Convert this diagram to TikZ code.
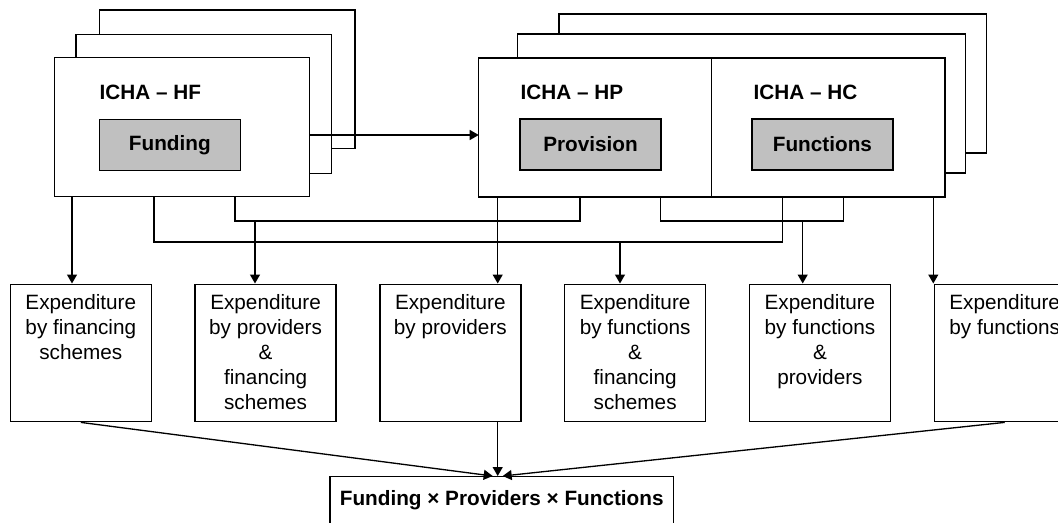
\documentclass[tikz,border=0pt]{standalone}
\usepackage{fontspec}
\setmainfont{Liberation Sans}
\usetikzlibrary{positioning}
\usetikzlibrary{arrows.meta}
\definecolor{boxgray}{RGB}{192,192,192}
\newcommand{\diagfont}{\fontsize{11.8pt}{14.2pt}\selectfont}
\newcommand{\expbox}[1]{\parbox[t][2.33cm][t]{2.82cm}{\centering #1}}

\begin{document}
\begin{tikzpicture}[x=0.02cm,y=-0.02cm,line width=0.75pt,font=\diagfont,
  sheet/.style={draw,fill=white},
  icha/.style={draw,fill=white,inner sep=0pt,outer sep=0pt,minimum height=2.78cm},
  part/.style={draw,fill=boxgray,minimum width=2.82cm,minimum height=1.02cm,inner sep=0pt,font=\diagfont\bfseries},
  title/.style={anchor=west,inner sep=0pt,font=\diagfont\bfseries},
  expend/.style={draw,fill=white,inner xsep=0pt,inner ysep=6pt,anchor=north},
  arr/.style={-{Triangle[length=0.18cm,width=0.2cm]}}]
\useasboundingbox (0,0) rectangle (1058,522);

% HF stack
\draw[sheet] (99.3,10) rectangle (355,148.7);
\draw[sheet] (76,34.3) rectangle (331.3,173.3);
\node[icha,minimum width=5.108cm] (hf) at (182,127.2) {};
\node[title] (hftitle) at (99,92) {ICHA -- HF};
\node[part] (fund) at (169.8,144.7) {Funding};

% HP / HC stack
\draw[sheet] (559,14) rectangle (986.7,153);
\draw[sheet] (517.7,34) rectangle (965.3,173);
\node[icha,minimum width=4.66cm] (hp) at (595.2,127.5) {};
\node[icha,minimum width=4.666cm,right=0pt of hp] (hc) {};
\node[title] (hptitle) at (520,92) {ICHA -- HP};
\node[title] (hctitle) at (753,92) {ICHA -- HC};
\node[part] (prov) at (590.5,144.5) {Provision};
\node[part] (func) at (822.4,144.5) {Functions};

\coordinate (flow) at (400,135);
\draw[arr] (hf.east |- flow) -- (hp.west |- flow);

% expenditure tables
\node[expend] (e1) at (80.8,283.5) {\expbox{Expenditure\\by financing\\schemes}};
\node[expend,right=0.85cm of e1] (e2) {\expbox{Expenditure\\by providers\\\&\\financing\\schemes}};
\node[expend,right=0.85cm of e2] (e3) {\expbox{Expenditure\\by providers}};
\node[expend,right=0.85cm of e3] (e4) {\expbox{Expenditure\\by functions\\\&\\financing\\schemes}};
\node[expend,right=0.85cm of e4] (e5) {\expbox{Expenditure\\by functions\\\&\\providers}};
\node[expend,right=0.85cm of e5] (e6) {\expbox{Expenditure\\by functions}};

% one classification each
\coordinate (x1) at (72,0);
\coordinate (x3) at (497.7,0);
\coordinate (x6) at (933.3,0);
\draw[arr] (hf.south -| x1) -- (e1.north -| x1);
\draw[arr] (hp.south -| x3) -- (e3.north -| x3);
\draw[arr] (hc.south -| x6) -- (e6.north -| x6);

% two classifications crossed
\coordinate (hfhpL) at (235,221); \coordinate (hfhpR) at (580,221); \coordinate (hfhp) at (255,221);
\draw (hf.south -| hfhpL) -- (hfhpL) -- (hfhpR) -- (hp.south -| hfhpR);
\draw[arr] (hfhp) -- (e2.north -| hfhp);
\coordinate (hfhcL) at (154,242); \coordinate (hfhcR) at (782.7,242); \coordinate (hfhc) at (620,242);
\draw (hf.south -| hfhcL) -- (hfhcL) -- (hfhcR) -- (hc.south -| hfhcR);
\draw[arr] (hfhc) -- (e4.north -| hfhc);
\coordinate (hphcL) at (660.7,221); \coordinate (hphcR) at (843.7,221); \coordinate (hphc) at (802.7,221);
\draw (hp.south -| hphcL) -- (hphcL) -- (hphcR) -- (hc.south -| hphcR);
\draw[arr] (hphc) -- (e5.north -| hphc);

% all three together
\node[draw,fill=white,minimum width=6.866cm,minimum height=0.96cm,inner sep=0pt,anchor=north,font=\diagfont\bfseries] (fpf) at (501.7,476) {Funding × Providers × Functions};
\draw[arr] (e1.south) -- ([xshift=-0.18cm]fpf.north);
\draw[arr] (e3.south -| x3) -- (fpf.north -| x3);
\draw[arr] (e6.south) -- ([xshift=0.02cm]fpf.north);

\end{tikzpicture}
\end{document}
